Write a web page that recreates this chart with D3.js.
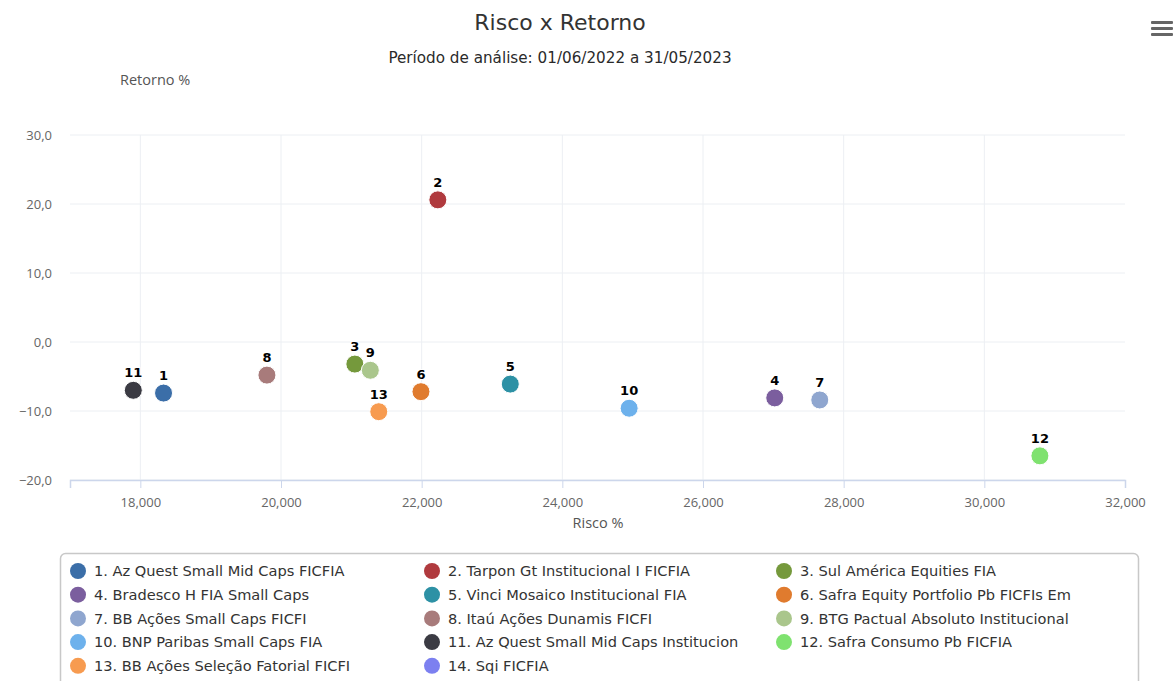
<!DOCTYPE html>
<html>
<head>
<meta charset="utf-8">
<script src="https://cdn.jsdelivr.net/npm/d3@7"></script>
<style>
  body { margin: 0; background: #fff; font-family: "Open Sans", sans-serif; }
  svg text { font-family: "Open Sans", sans-serif; }
  svg text.dv { font-family: "DejaVu Sans", sans-serif; }
</style>
</head>
<body>
<svg id="chart" width="1176" height="681"></svg>
<script>
// fund data
const fundNames = [
  "Az Quest Small Mid Caps FICFIA",
  "Tarpon Gt Institucional I FICFIA",
  "Sul América Equities FIA",
  "Bradesco H FIA Small Caps",
  "Vinci Mosaico Institucional FIA",
  "Safra Equity Portfolio Pb FICFIs Em",
  "BB Ações Small Caps FICFI",
  "Itaú Ações Dunamis FICFI",
  "BTG Pactual Absoluto Institucional",
  "BNP Paribas Small Caps FIA",
  "Az Quest Small Mid Caps Institucion",
  "Safra Consumo Pb FICFIA",
  "BB Ações Seleção Fatorial FICFI",
  "Sqi FICFIA"
];
const risco = [18.33, 22.23, 21.05, 27.02, 23.26, 21.99, 27.66, 19.80, 21.27, 24.95, 17.90, 30.79, 21.39, null];
const retorno = [-7.4, 20.6, -3.2, -8.1, -6.1, -7.2, -8.4, -4.8, -4.1, -9.6, -7.0, -16.5, -10.1, null];
const colors = ["#3b6ea8", "#b03a3e", "#75993c", "#7b5e9e", "#2d91a5", "#e07b2e", "#8fa6cf", "#a87b7b",
                "#aac68c", "#6db1ec", "#3b3b43", "#7fe26f", "#f79b50", "#7c80f0"];
const xTicks = [18, 20, 22, 24, 26, 28, 30, 32];
const yTicks = [-20, -10, 0, 10, 20, 30];

const svg = d3.select("#chart");
const plotL = 70, plotR = 1125, plotT = 135, plotB = 480;

const x = d3.scaleLinear().domain([17, 32]).range([plotL, plotR]);
const y = d3.scaleLinear().domain([-20, 30]).range([plotB, plotT]);

// titles
svg.append("text").attr("class", "dv").attr("x", 560).attr("y", 30).attr("text-anchor", "middle")
  .style("font-size", "22px").style("fill", "#333").text("Risco x Retorno");
svg.append("text").attr("class", "dv").attr("x", 560).attr("y", 63).attr("text-anchor", "middle")
  .style("font-size", "15.2px").style("fill", "#2a2a2a").text("Período de análise: 01/06/2022 a 31/05/2023");
svg.append("text").attr("x", 120).attr("y", 85)
  .style("font-size", "14.5px").style("fill", "#555").text("Retorno %");

// menu icon
[0, 6, 12].forEach(d => {
  svg.append("rect").attr("x", 1151).attr("y", 21 + d).attr("width", 22).attr("height", 3)
    .attr("rx", 1).attr("fill", "#666");
});

// grid
svg.append("g").selectAll("line").data(yTicks).enter().append("line")
  .attr("x1", plotL).attr("x2", plotR)
  .attr("y1", d => y(d)).attr("y2", d => y(d))
  .attr("stroke", "#eceff3").attr("stroke-width", 1);
svg.append("g").selectAll("line").data(xTicks.filter(d => d < 32)).enter().append("line")
  .attr("x1", d => x(d)).attr("x2", d => x(d))
  .attr("y1", plotT).attr("y2", plotB)
  .attr("stroke", "#eceff3").attr("stroke-width", 1);

// x axis
const xAxis = svg.append("g").attr("transform", `translate(0,${plotB})`)
  .call(d3.axisBottom(x).tickValues(xTicks).tickSize(8)
    .tickFormat(d => d3.format(".3f")(d).replace(".", ",")));
xAxis.select(".domain").attr("stroke", "#ccd6eb").attr("stroke-width", 1.5);
xAxis.selectAll(".tick line").attr("stroke", "#ccd6eb");
xAxis.selectAll(".tick text").attr("dy", "1.25em")
  .style("font-size", "13px").style("fill", "#666");
svg.append("text").attr("x", 598).attr("y", 528).attr("text-anchor", "middle")
  .style("font-size", "14.5px").style("fill", "#555").text("Risco %");

// y axis
const yAxis = svg.append("g").attr("transform", `translate(${plotL},0)`)
  .call(d3.axisLeft(y).tickValues(yTicks).tickSize(0)
    .tickFormat(d => d3.format(".1f")(d).replace(".", ",").replace("-", "−")));
yAxis.select(".domain").remove();
yAxis.selectAll(".tick text").attr("x", -18)
  .style("font-size", "13px").style("fill", "#666");

// points
const pts = fundNames.map((n, i) => ({ id: i + 1, r: risco[i], t: retorno[i], c: colors[i] }))
  .filter(d => d.r !== null);
svg.append("g").selectAll("circle").data(pts).enter().append("circle")
  .attr("cx", d => x(d.r)).attr("cy", d => y(d.t)).attr("r", 9)
  .attr("fill", d => d.c).attr("stroke", "#fff").attr("stroke-width", 1);
svg.append("g").selectAll("text").data(pts).enter().append("text")
  .attr("class", "dv")
  .attr("x", d => x(d.r)).attr("y", d => y(d.t) - 13)
  .attr("text-anchor", "middle")
  .style("font-size", "13px").style("font-weight", "bold").style("fill", "#000")
  .style("stroke", "#fff").style("stroke-width", 2).style("paint-order", "stroke")
  .text(d => d.id);

// legend
svg.append("rect").attr("x", 60.5).attr("y", 553.5).attr("width", 1078).attr("height", 140)
  .attr("rx", 5).attr("fill", "#fff").attr("stroke", "#c8c8c8").attr("stroke-width", 1.5);
const colX = [78, 432, 784];
const leg = svg.append("g").selectAll("g").data(fundNames).enter().append("g")
  .attr("transform", (d, i) => `translate(${colX[i % 3]},${571 + Math.floor(i / 3) * 23.7})`);
leg.append("circle").attr("r", 8).attr("fill", (d, i) => colors[i]);
leg.append("text").attr("class", "dv").attr("x", 16).attr("dy", "0.35em")
  .style("font-size", "14.6px").style("fill", "#333")
  .text((d, i) => `${i + 1}. ${d}`);
</script>
</body>
</html>
